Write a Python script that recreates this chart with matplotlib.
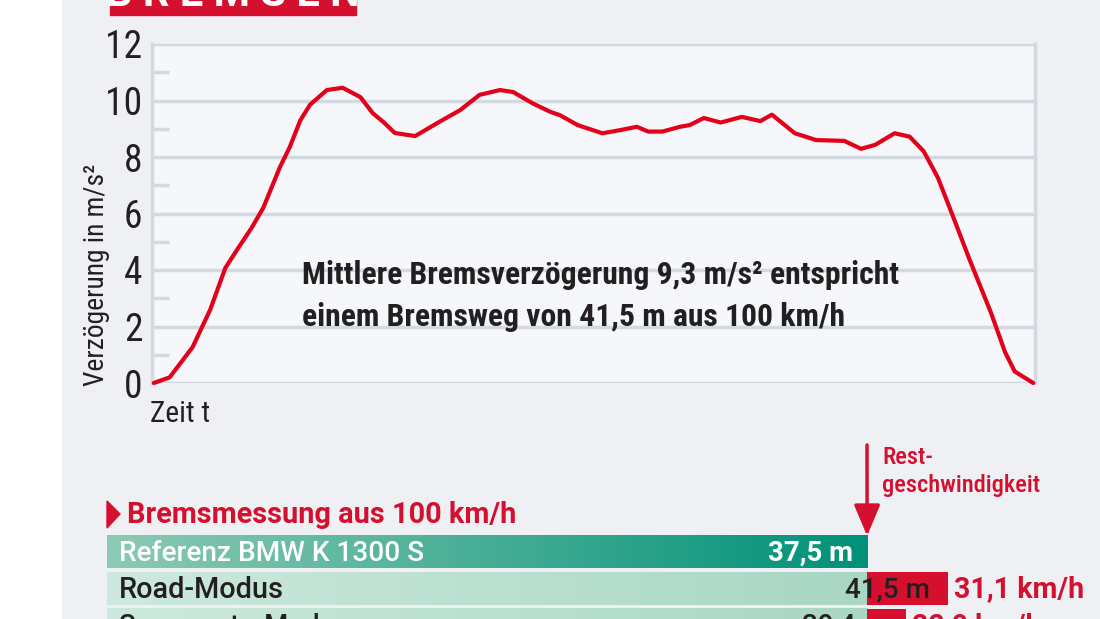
import numpy as np
import matplotlib
matplotlib.use("Agg")
import matplotlib.pyplot as plt
from matplotlib import font_manager as fm
from matplotlib.patches import Rectangle, Polygon

# Verzögerungskurve (Zeit in % der Bremszeit, Verzögerung in m/s²)
zeit = [0.2, 2.0, 4.6, 6.6, 8.3, 9.6, 11.3, 12.6, 14.5, 15.6, 16.8, 17.9, 19.8, 21.6,
        23.6, 25.0, 26.2, 27.5, 29.8, 32.3, 34.9, 37.1, 39.4, 40.9, 43.1, 45.1, 46.2,
        48.2, 51.0, 53.0, 54.9, 56.2, 57.8, 59.8, 60.9, 62.5, 64.4, 66.8, 68.9, 70.2,
        72.8, 75.2, 78.4, 80.3, 81.9, 84.1, 85.8, 87.4, 89.0, 90.6, 92.6, 95.0, 96.6,
        97.7, 99.8]
verz = [0.0, 0.2, 1.27, 2.6, 4.07, 4.7, 5.5, 6.2, 7.65, 8.35, 9.3, 9.85, 10.37, 10.45,
        10.12, 9.55, 9.24, 8.85, 8.74, 9.2, 9.66, 10.2, 10.37, 10.3, 9.9, 9.6, 9.48,
        9.13, 8.84, 8.95, 9.07, 8.9, 8.9, 9.07, 9.13, 9.38, 9.22, 9.42, 9.27, 9.5,
        8.84, 8.6, 8.57, 8.29, 8.43, 8.84, 8.72, 8.2, 7.27, 5.99, 4.36, 2.5, 1.1,
        0.41, 0.0]
yticks = [0, 2, 4, 6, 8, 10, 12]

# Bremsmessung aus 100 km/h
modi = ["Referenz BMW K 1300 S", "Road-Modus", "Supermoto-Modus"]
bremsweg = [37.5, 41.5, 39.4]
restgeschw = [None, "31,1 km/h", "22,0 km/h"]

ROT = "#d5102e"
LINIE = "#e3001b"
TXT = "#231f20"
GRID = "#d3d9e0"


# passende Schriften suchen (schmal + Myriad-ähnlich, jeweils mit Fettschnitt)
def _w(f):
    w = f.weight
    if isinstance(w, str):
        w = fm.weight_dict.get(w, 400)
    return int(w)


def pick(cands):
    for c in cands:
        ws = [_w(f) for f in fm.fontManager.ttflist if f.name == c]
        if ws and max(ws) >= 600:
            return [c, "DejaVu Sans"]
    return ["DejaVu Sans"]


narrow = pick(["Roboto Condensed", "Liberation Sans Narrow", "Open Sans Condensed",
               "Noto Sans Condensed", "Roboto", "Liberation Sans"])
normal = pick(["Roboto", "Lato", "Open Sans", "Noto Sans"])

W, H = 1100, 619
fig = plt.figure(figsize=(W / 100, H / 100), dpi=100)
fig.patch.set_facecolor("white")
fig.patches.append(Rectangle((62 / W, 0), 1, 1, transform=fig.transFigure,
                             color="#eef0f4", zorder=-10))
renderer = fig.canvas.get_renderer()


def fx(px):
    return px / W


def fy(py):
    return 1 - py / H


def fit(t, width, vertical=False):
    # Schriftgröße so anpassen, dass der Text die Breite im Original hat
    for _ in range(3):
        bb = t.get_window_extent(renderer)
        cur = bb.height if vertical else bb.width
        t.set_fontsize(t.get_fontsize() * width / cur)
    return t


# Titelbox (oben abgeschnitten)
fig.patches.append(Rectangle((fx(110), fy(15)), fx(246), 0.1, transform=fig.transFigure,
                             color=ROT, zorder=-5))
fig.text(fx(233), fy(6), "B R E M S E N", color="white", fontsize=30, fontweight="bold",
         family=normal, ha="center", va="baseline")

# Diagramm
ax = fig.add_axes([fx(152), fy(383), fx(1035 - 152), (383 - 44) / H])
ax.set_facecolor("#f6f7fa")
ax.set_xlim(0, 100)
ax.set_ylim(0, 12)
for s in ["top", "bottom"]:
    ax.spines[s].set_visible(False)
for s in ["left", "right"]:
    ax.spines[s].set_color(GRID)
    ax.spines[s].set_linewidth(2.5)
ax.set_yticks(yticks)
ax.set_yticks([1, 3, 5, 7, 9, 11], minor=True)
ax.set_xticks([])
ax.grid(axis="y", which="major", color=GRID, lw=2.5)
ax.tick_params(axis="y", which="major", length=0, pad=7, labelsize=27, labelcolor=TXT)
ax.tick_params(axis="y", which="minor", length=12, width=2.5, color=GRID, direction="in")
for lab in ax.get_yticklabels():
    lab.set_family(narrow)
ax.set_axisbelow(True)
ax.plot(zeit, verz, color=LINIE, lw=3.0, solid_joinstyle="round", solid_capstyle="round",
        clip_on=False, zorder=5)

ylab = fig.text(fx(97), fy(386), "Verzögerung in m/s²", rotation=90, fontsize=18,
                family=narrow, color=TXT, ha="center", va="bottom")
fit(ylab, 222, vertical=True)
zt = fig.text(fx(150), fy(414), "Zeit t", fontsize=18, family=narrow, color=TXT,
              va="center")
fit(zt, 60)
note = fig.text(fx(302), fy(326),
                "Mittlere Bremsverzögerung 9,3 m/s² entspricht\n"
                "einem Bremsweg von 41,5 m aus 100 km/h",
                fontsize=18, fontweight="bold", family=narrow, color=TXT, va="baseline",
                linespacing=1.5)
fit(note, 598)

# Balken
bx = fig.add_axes([fx(107), 0, fx(W - 107), (H - 530) / H])
bx.set_xlim(0, (W - 107) / 20.27)
unit = 36.5
y0 = -(552 - 530) / unit
bx.set_ylim(y0 + (H - 530) / unit, y0)
bx.axis("off")
bx.patch.set_alpha(0)
ref = bremsweg[0]
bh = 0.88
grad = np.linspace(0, 1, 256).reshape(1, -1)
name_w = [305, 165, 230]
for i, (name, dist) in enumerate(zip(modi, bremsweg)):
    if i == 0:
        cmap = matplotlib.colors.LinearSegmentedColormap.from_list("r", ["#8ccab3", "#009178"])
    else:
        cmap = matplotlib.colors.LinearSegmentedColormap.from_list("m", ["#cde9dd", "#a8d7c3"])
    bx.imshow(grad, cmap=cmap, aspect="auto", extent=(0, ref, i + bh / 2, i - bh / 2),
              zorder=1)
    if dist > ref:
        bx.barh(i, dist - ref, left=ref, height=bh, color=ROT, zorder=2)
    col = "white" if i == 0 else TXT
    t = bx.text(0.6, i + 0.03, name, color=col, fontsize=18, family=normal,
                fontweight="medium", va="center", zorder=3)
    fit(t, name_w[i])
    lab = f"{dist:.1f} m".replace(".", ",")
    xend = ref - 0.7 if i == 0 else dist - 0.9
    t = bx.text(xend, i + 0.03, lab, color=col, fontsize=18, family=normal,
                fontweight="bold" if i == 0 else "medium", ha="right", va="center",
                zorder=3)
    fit(t, 85)
    if restgeschw[i]:
        t = bx.text(dist + 0.3, i + 0.03, restgeschw[i], color=ROT, fontsize=18,
                    family=normal, fontweight="semibold", va="center", zorder=3)
        fit(t, 130)

# Überschrift mit Dreieck
fig.patches.append(Polygon([[fx(107), fy(501)], [fx(120), fy(514)], [fx(107), fy(528)]],
                           closed=True, transform=fig.transFigure, color=ROT))
head = fig.text(fx(127), fy(515), "Bremsmessung aus 100 km/h", color=ROT, fontsize=18,
                fontweight="bold", family=normal, va="center")
fit(head, 389)

# Pfeil Restgeschwindigkeit
bx.annotate("", xy=(ref, -bh / 2), xycoords="data",
            xytext=(fx(867), fy(445)), textcoords="figure fraction",
            arrowprops=dict(arrowstyle="-|>,head_length=1.9,head_width=0.8", color=ROT,
                            lw=2.5, shrinkA=0, shrinkB=0), annotation_clip=False)
rest = fig.text(fx(882), fy(446), "Rest-\ngeschwindigkeit", color=ROT, fontsize=16,
                family=narrow, fontweight="medium", va="top", linespacing=1.3)
fit(rest, 158)

fig.savefig("out.png", dpi=100, facecolor=fig.get_facecolor())
